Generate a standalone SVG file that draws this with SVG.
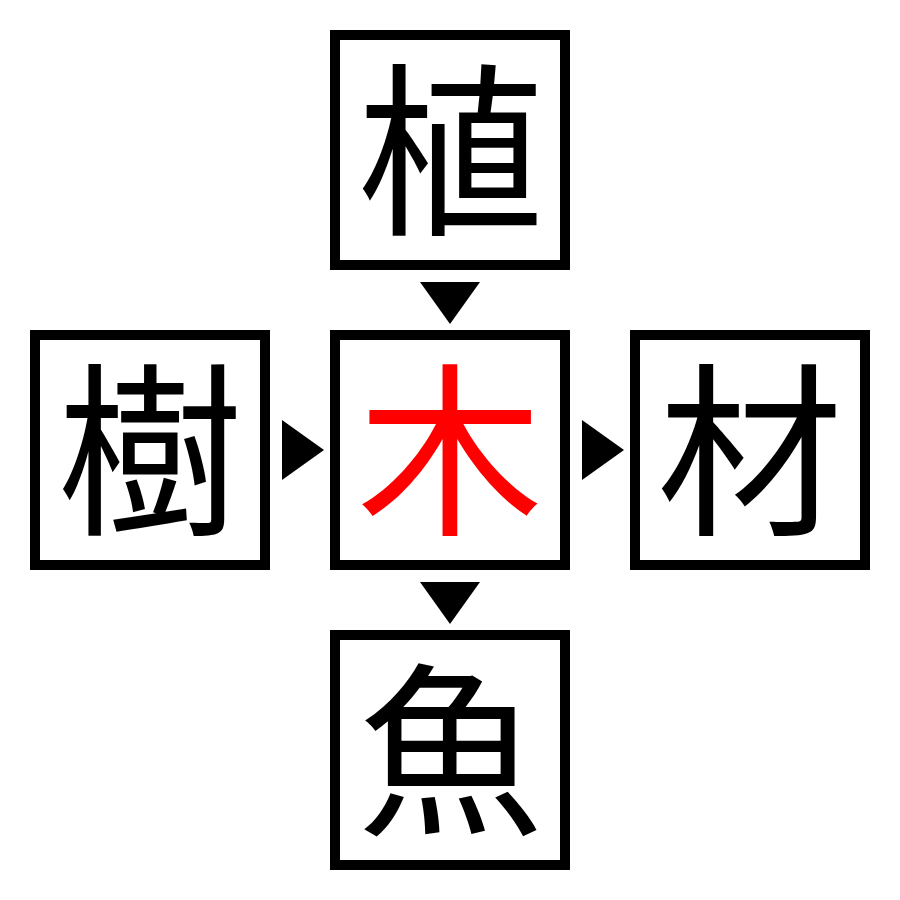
<svg xmlns="http://www.w3.org/2000/svg" width="900" height="900" viewBox="0 0 900 900">
<style>
.box{fill:#fff;stroke:#000;stroke-width:10}
.ch{font-family:"Noto Sans CJK JP","Noto Sans CJK SC",sans-serif;font-size:186px;text-anchor:middle;fill:#000}
.hl{fill:#f00}
.arr{fill:#000}
</style>
<rect width="900" height="900" fill="#fff"/>
<g id="connectors">
<polygon class="arr" points="420,282 480,282 450,324"/>
<polygon class="arr" points="282,420 282,480 324,450"/>
<polygon class="arr" points="582,420 582,480 624,450"/>
<polygon class="arr" points="420,582 480,582 450,624"/>
</g>
<g id="node-top"><rect class="box" x="335" y="35" width="230" height="230"/><text class="ch" x="450" y="221">植</text></g>
<g id="node-left"><rect class="box" x="35" y="335" width="230" height="230"/><text class="ch" x="150" y="521">樹</text></g>
<g id="node-center"><rect class="box" x="335" y="335" width="230" height="230"/><text class="ch hl" x="450" y="521">木</text></g>
<g id="node-right"><rect class="box" x="635" y="335" width="230" height="230"/><text class="ch" x="750" y="521">材</text></g>
<g id="node-bottom"><rect class="box" x="335" y="635" width="230" height="230"/><text class="ch" x="450" y="821">魚</text></g>
</svg>
